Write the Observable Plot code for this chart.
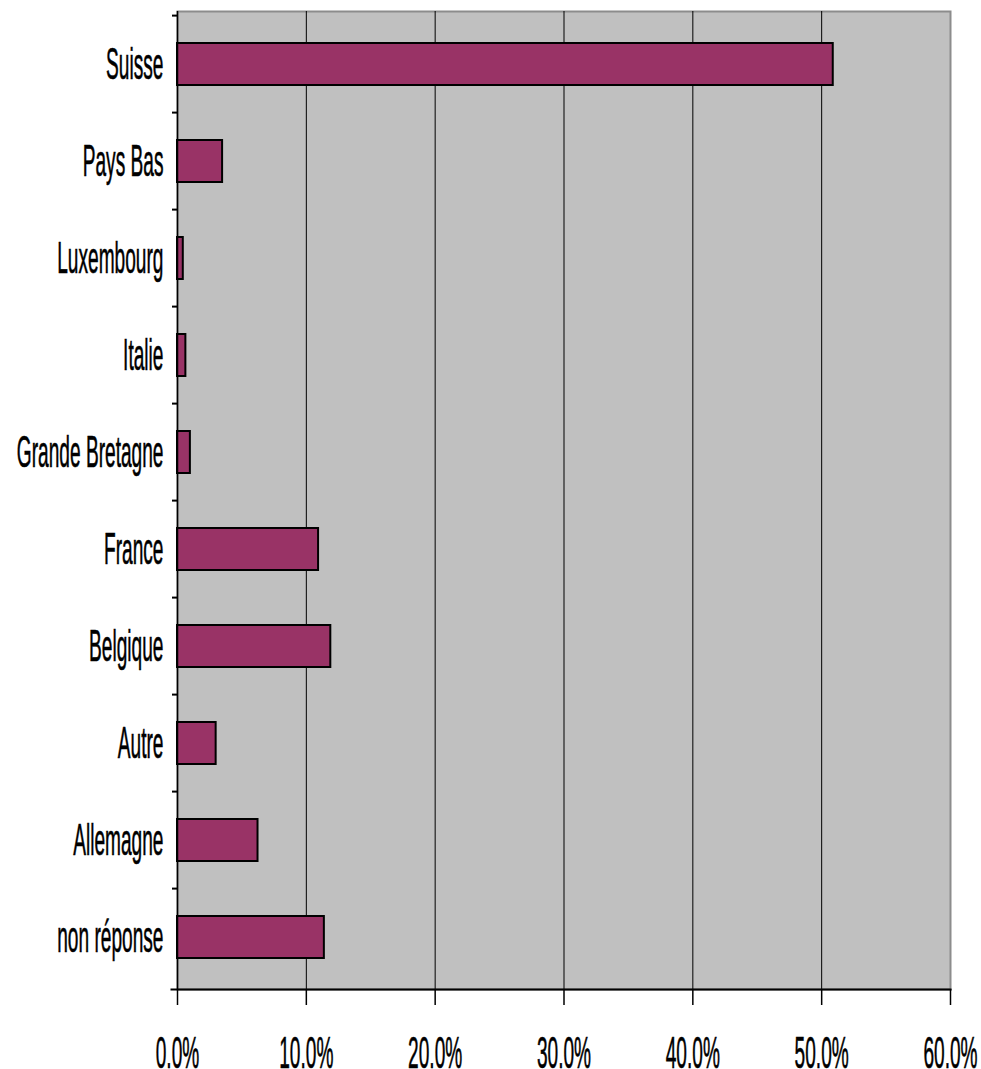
<!DOCTYPE html>
<html><head><meta charset="utf-8">
<script src="https://cdn.jsdelivr.net/npm/d3@7"></script>
<script src="https://cdn.jsdelivr.net/npm/@observablehq/plot@0.6"></script>
<style>
body{margin:0;background:#fff;}
#chart svg text{font-family:"Liberation Sans",Arial,sans-serif;}
</style>
</head><body><div id="chart"></div>
<script>
const categories = ["Suisse","Pays Bas","Luxembourg","Italie","Grande Bretagne","France","Belgique","Autre","Allemagne","non réponse"];
const values = [50.9, 3.5, 0.45, 0.65, 1.0, 10.95, 11.9, 3.0, 6.25, 11.4];
const xTicks = [0, 10, 20, 30, 40, 50, 60];
const data = categories.map((c, i) => ({country: c, pct: values[i]}));

const W = 981, H = 1069, mt = 11, mb = 80, ml = 177, mr = 31;
const step = (H - mt - mb) / categories.length;
const FS = 45;

const chart = Plot.plot({
  width: W, height: H,
  marginTop: mt, marginBottom: mb, marginLeft: ml, marginRight: mr,
  style: {fontFamily: "Liberation Sans, Arial, sans-serif", fontSize: FS + "px", color: "black", background: "white", overflow: "visible"},
  x: {domain: [0, 60], label: null},
  y: {domain: categories, paddingInner: 0.57, paddingOuter: 0.285, label: null},
  marks: [
    Plot.frame({fill: "#c0c0c0", stroke: "#8c8c8c", strokeWidth: 2}),
    Plot.gridX(xTicks.slice(1, -1), {stroke: "black", strokeOpacity: 1, strokeWidth: 1}),
    Plot.barX(data, {x: "pct", y: "country", fill: "#993366", stroke: "black", strokeWidth: 2}),
    Plot.ruleX([0], {stroke: "black", strokeWidth: 1.5}),
    Plot.frame({anchor: "bottom", stroke: "black", strokeWidth: 2, insetLeft: -6}),
    Plot.axisY({ticks: categories, tickSize: 5, text: null, dy: -step / 2, strokeWidth: 2, label: null}),
    Plot.axisY({ticks: categories, tickSize: 0, tickPadding: 14, fontSize: FS, label: null}),
    Plot.axisX({ticks: xTicks, tickSize: 16, tickPadding: 31, fontSize: FS, strokeWidth: 1.5, label: null, tickFormat: d => d.toFixed(1) + "%"})
  ]
});

d3.select(chart).selectAll('g[aria-label="y-axis tick label"] text, g[aria-label="x-axis tick label"] text')
  .attr("stroke", "black").attr("stroke-width", 0.6)
  .attr("transform", function() { return (this.getAttribute("transform") || "") + " scale(0.425,1)"; });

document.getElementById("chart").appendChild(chart);
</script>
</body></html>
